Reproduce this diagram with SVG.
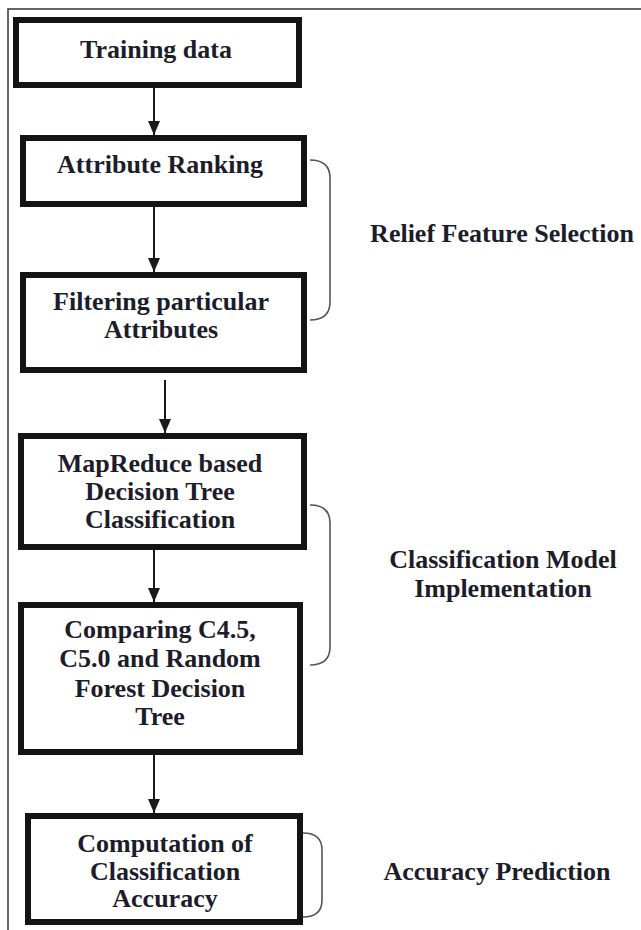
<svg xmlns="http://www.w3.org/2000/svg" width="641" height="930" viewBox="0 0 641 930">
<style>
.box{fill:#ffffff;stroke:#141414;stroke-width:6}
.t{font-family:"Liberation Serif","Times New Roman",serif;font-weight:bold;font-size:26px;fill:#1c1c2a;text-anchor:middle}
.arr{stroke:#1a1a1a;stroke-width:2;fill:none;marker-end:url(#ah)}
.br{stroke:#555555;stroke-width:1.6;fill:none}
</style>
<defs>
<marker id="ah" markerWidth="14" markerHeight="12" refX="14" refY="6" orient="auto" markerUnits="userSpaceOnUse">
<path d="M0,0 L14,6 L0,12 Z" fill="#1a1a1a"/>
</marker>
</defs>
<rect id="frame" x="8" y="9" width="640" height="930" fill="none" stroke="#333333" stroke-width="1.5"/>
<g id="connectors">
<line class="arr" x1="154" y1="88" x2="154" y2="135"/>
<line class="arr" x1="154" y1="207" x2="154" y2="272"/>
<line class="arr" x1="165" y1="380" x2="165" y2="433"/>
<line class="arr" x1="154" y1="550" x2="154" y2="602"/>
<line class="arr" x1="154" y1="755" x2="154" y2="813"/>
</g>
<g id="training">
<rect class="box" x="16" y="20" width="283" height="65"/>
<text class="t" x="156" y="58">Training data</text>
</g>
<g id="ranking">
<rect class="box" x="23" y="138" width="281" height="66"/>
<text class="t" x="160" y="173">Attribute Ranking</text>
</g>
<g id="filtering">
<rect class="box" x="23" y="275" width="281" height="95"/>
<text class="t" x="161" y="310">Filtering particular</text>
<text class="t" x="161" y="338">Attributes</text>
</g>
<g id="mapreduce">
<rect class="box" x="21" y="436" width="283" height="111"/>
<text class="t" x="160" y="472">MapReduce based</text>
<text class="t" x="160" y="500">Decision Tree</text>
<text class="t" x="160" y="528">Classification</text>
</g>
<g id="comparing">
<rect class="box" x="21" y="605" width="279" height="147"/>
<text class="t" x="160" y="638">Comparing C4.5,</text>
<text class="t" x="160" y="667">C5.0 and Random</text>
<text class="t" x="160" y="697">Forest Decision</text>
<text class="t" x="160" y="725">Tree</text>
</g>
<g id="computation">
<rect class="box" x="28" y="816" width="272" height="106"/>
<text class="t" x="165" y="852">Computation of</text>
<text class="t" x="165" y="880">Classification</text>
<text class="t" x="165" y="907">Accuracy</text>
</g>
<g id="relief">
<path class="br" d="M310,160 Q330,160 330,178 L330,302 Q330,320 310,320"/>
<text class="t" x="502" y="242">Relief Feature Selection</text>
</g>
<g id="classmodel">
<path class="br" d="M310,505 Q330,505 330,523 L330,647 Q330,665 310,665"/>
<text class="t" x="503" y="568">Classification Model</text>
<text class="t" x="503" y="597">Implementation</text>
</g>
<g id="accuracy">
<path class="br" d="M303,833 Q322,833 322,850 L322,900 Q322,917 303,917"/>
<text class="t" x="497" y="880">Accuracy Prediction</text>
</g>
</svg>
